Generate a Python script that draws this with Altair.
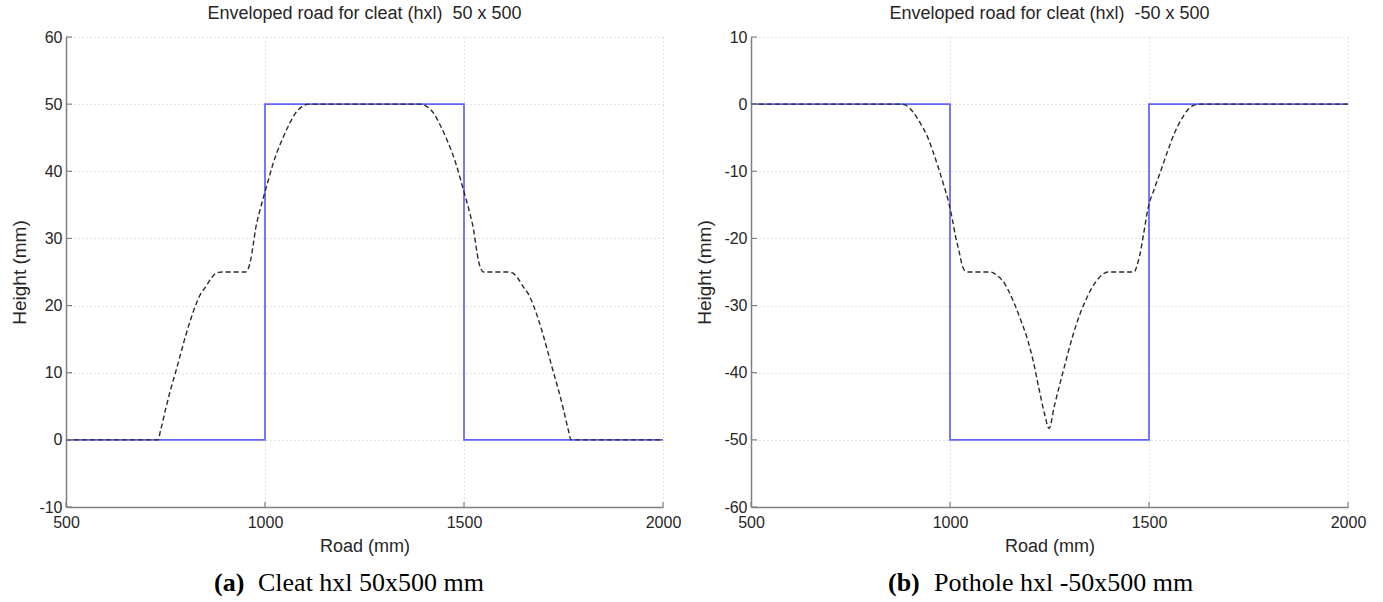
import altair as alt
import pandas as pd

# Road profiles (step obstacles), shared x positions
road_x = [500, 1000, 1000, 1500, 1500, 2000]
cleat_road_h = [0, 0, 50, 50, 0, 0]
pothole_road_h = [0, 0, -50, -50, 0, 0]

# Enveloped road for the cleat
cleat_env_x = [500, 731, 738, 750, 762, 775, 788, 800, 813, 826, 838, 851, 864, 876, 884, 892,
               920, 951, 958, 964, 970, 976, 986, 997, 1008, 1018, 1030, 1043, 1060, 1077, 1095, 1111,
               1250, 1389, 1405, 1423, 1440, 1457, 1470, 1482, 1492, 1503, 1514, 1524, 1530, 1536,
               1542, 1549, 1580, 1608, 1616, 1624, 1636, 1649, 1662, 1674, 1687, 1700, 1712, 1725,
               1738, 1750, 1762, 1769, 2000]
cleat_env_h = [0, 0, 1.5, 4.5, 7.3, 10, 12.8, 15.4, 17.9, 20.1, 21.7, 22.8, 24.0, 24.8, 24.95, 25,
               25, 25, 25.5, 26.8, 28.9, 31.3, 33.9, 36.3, 38.6, 40.7, 42.8, 44.7, 46.9, 48.7, 49.7, 50,
               50, 50, 49.7, 48.7, 46.9, 44.7, 42.8, 40.7, 38.6, 36.3, 33.9, 31.3, 28.9, 26.8,
               25.5, 25, 25, 25, 24.95, 24.8, 24.0, 22.8, 21.7, 20.1, 17.9, 15.4, 12.8, 10,
               7.3, 4.5, 1.5, 0, 0]

# Enveloped road for the pothole
pothole_env_x = [500, 880, 895, 909, 925, 943, 958, 972, 985, 997, 1006, 1014, 1023, 1031, 1037, 1044,
                 1102, 1120, 1136, 1148, 1161, 1178, 1195, 1210, 1224, 1237, 1249, 1262, 1283, 1308,
                 1322, 1338, 1355, 1371, 1385, 1396, 1463, 1470, 1476, 1486, 1497, 1514, 1531, 1548,
                 1564, 1581, 1598, 1612, 1627, 2000]
pothole_env_h = [0, 0, -0.4, -1.3, -2.8, -4.8, -7.2, -9.7, -12.2, -14.7, -17.2, -19.7, -22, -24.1, -24.8, -25,
                 -25, -25.6, -26.6, -27.9, -29.6, -32.2, -35.1, -38.5, -42.5, -46, -48.3, -45, -40.1, -34.6,
                 -32, -29.6, -27.5, -26.1, -25.3, -25, -25, -24, -22.7, -19.5, -15.7, -12.5, -9.7, -6.8,
                 -4.3, -2.3, -0.8, -0.2, 0, 0]

x_ticks = [500, 1000, 1500, 2000]
cleat_y_ticks = [-10, 0, 10, 20, 30, 40, 50, 60]
pothole_y_ticks = [-60, -50, -40, -30, -20, -10, 0, 10]

W, H = 597, 470
AXIS_GRAY = "#808080"
TEXT = "#262626"


def panel(road_h, env_x, env_h, y_dom, y_ticks, title, tag, caption, tag_x, cap_x):
    road = pd.DataFrame({"x": road_x, "h": road_h, "i": list(range(len(road_x)))})
    env = pd.DataFrame({"x": env_x, "h": env_h, "i": list(range(len(env_x)))})
    xs = alt.Scale(domain=[500, 2000], nice=False, zero=False)
    ys = alt.Scale(domain=y_dom, nice=False, zero=False)

    x_axis = alt.Axis(values=x_ticks, title="Road (mm)", grid=True, ticks=False, tickSize=0,
                      labelPadding=7, titlePadding=7, labelFlush=False,
                      labelExpr="toString(datum.value)")
    y_axis = alt.Axis(values=y_ticks, title="Height (mm)", grid=True, ticks=False, tickSize=0,
                      labelPadding=4, titlePadding=9, labelFlush=False, titleFontSize=19,
                      labelExpr="toString(datum.value)")
    X = alt.X("x:Q", scale=xs, axis=x_axis)
    Y = alt.Y("h:Q", scale=ys, axis=y_axis)

    road_line = alt.Chart(road).mark_line(color="#6262ff", strokeWidth=1.7).encode(
        x=X, y=Y, order="i:Q"
    )
    env_line = alt.Chart(env).mark_line(
        color="#2a2a2a", strokeWidth=1.4, strokeDash=[5, 3], interpolate="monotone"
    ).encode(x=X, y=Y, order="i:Q")

    # inward-pointing tick marks
    xt = alt.Chart(pd.DataFrame({"x": x_ticks})).mark_rule(color=AXIS_GRAY, strokeWidth=1.2).encode(
        x=X, y=alt.value(H), y2=alt.value(H - 5)
    )
    yt = alt.Chart(pd.DataFrame({"h": y_ticks})).mark_rule(color=AXIS_GRAY, strokeWidth=1.2).encode(
        y=Y, x=alt.value(0), x2=alt.value(6)
    )

    tag_txt = alt.Chart(pd.DataFrame({"t": [tag]})).mark_text(
        align="left", baseline="middle", font="Liberation Serif", fontSize=26,
        fontWeight="bold", color="black"
    ).encode(text="t:N", x=alt.value(tag_x), y=alt.value(546))
    cap_txt = alt.Chart(pd.DataFrame({"t": [caption]})).mark_text(
        align="left", baseline="middle", font="Liberation Serif", fontSize=26, color="black"
    ).encode(text="t:N", x=alt.value(cap_x), y=alt.value(546))

    return alt.layer(road_line, env_line, xt, yt, tag_txt, cap_txt).properties(
        width=W, height=H,
        title=alt.TitleParams(title, font="Liberation Sans", fontSize=18, fontWeight="normal",
                              color=TEXT, anchor="middle", frame="group", offset=6),
    )


left = panel(cleat_road_h, cleat_env_x, cleat_env_h, [-10, 60], cleat_y_ticks,
             "Enveloped road for cleat (hxl)\u00a0 50 x 500", "(a)", "Cleat hxl 50x500 mm", 148, 192)
right = panel(pothole_road_h, pothole_env_x, pothole_env_h, [-60, 10], pothole_y_ticks,
              "Enveloped road for cleat (hxl)\u00a0 -50 x 500", "(b)", "Pothole hxl -50x500 mm", 137, 183)

chart = alt.hconcat(left, right, spacing=14).properties(
    padding={"left": 10, "top": 5, "right": 5, "bottom": 0},
    background="white",
).configure_view(stroke=None).configure_axis(
    domainColor=AXIS_GRAY, domainWidth=1.5,
    gridColor="#c8c8c8", gridDash=[1, 3], gridWidth=1,
    labelFont="Liberation Sans", labelFontSize=16, labelColor=TEXT,
    titleFont="Liberation Sans", titleFontSize=18, titleFontWeight="normal", titleColor=TEXT,
)

chart.save("out.html", embed_options={"renderer": "svg", "actions": False})
